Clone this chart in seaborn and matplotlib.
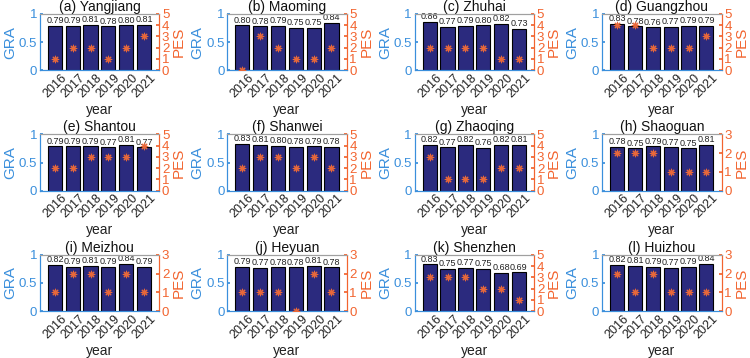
import numpy as np
import pandas as pd
import matplotlib
matplotlib.use("Agg")
import matplotlib.pyplot as plt
import seaborn as sns

sns.set_theme(style="white")
plt.rcParams['font.family'] = ['Liberation Sans', 'DejaVu Sans']

years = ["2016", "2017", "2018", "2019", "2020", "2021"]
titles = ["(a) Yangjiang", "(b) Maoming", "(c) Zhuhai", "(d) Guangzhou",
          "(e) Shantou", "(f) Shanwei", "(g) Zhaoqing", "(h) Shaoguan",
          "(i) Meizhou", "(j) Heyuan", "(k) Shenzhen", "(l) Huizhou"]

gra_yangjiang = [0.79, 0.79, 0.81, 0.78, 0.80, 0.81]
gra_maoming = [0.80, 0.78, 0.79, 0.75, 0.75, 0.84]
gra_zhuhai = [0.86, 0.77, 0.79, 0.80, 0.82, 0.73]
gra_guangzhou = [0.83, 0.78, 0.76, 0.77, 0.79, 0.79]
gra_shantou = [0.79, 0.79, 0.79, 0.77, 0.81, 0.77]
gra_shanwei = [0.83, 0.81, 0.80, 0.78, 0.79, 0.78]
gra_zhaoqing = [0.82, 0.77, 0.82, 0.76, 0.82, 0.81]
gra_shaoguan = [0.78, 0.75, 0.79, 0.77, 0.75, 0.81]
gra_meizhou = [0.82, 0.79, 0.81, 0.79, 0.84, 0.79]
gra_heyuan = [0.79, 0.77, 0.78, 0.78, 0.81, 0.78]
gra_shenzhen = [0.83, 0.75, 0.77, 0.75, 0.68, 0.69]
gra_huizhou = [0.82, 0.81, 0.79, 0.77, 0.79, 0.84]

pes_yangjiang = [1, 2, 2, 1, 2, 3]
pes_maoming = [0, 3, 2, 1, 1, 2]
pes_zhuhai = [2, 2, 2, 2, 1, 1]
pes_guangzhou = [4, 4, 2, 2, 2, 3]
pes_shantou = [2, 2, 3, 3, 3, 4]
pes_shanwei = [2, 3, 3, 2, 3, 2]
pes_zhaoqing = [3, 1, 1, 1, 2, 2]
pes_shaoguan = [2, 2, 2, 1, 1, 1]
pes_meizhou = [1, 2, 2, 1, 2, 1]
pes_heyuan = [1, 1, 1, 0, 2, 1]
pes_shenzhen = [3, 3, 3, 2, 2, 1]
pes_huizhou = [2, 1, 2, 1, 1, 1]

pes_max = [5, 5, 5, 5, 5, 5, 5, 3, 3, 3, 5, 3]

gra_all = [gra_yangjiang, gra_maoming, gra_zhuhai, gra_guangzhou,
           gra_shantou, gra_shanwei, gra_zhaoqing, gra_shaoguan,
           gra_meizhou, gra_heyuan, gra_shenzhen, gra_huizhou]
pes_all = [pes_yangjiang, pes_maoming, pes_zhuhai, pes_guangzhou,
           pes_shantou, pes_shanwei, pes_zhaoqing, pes_shaoguan,
           pes_meizhou, pes_heyuan, pes_shenzhen, pes_huizhou]

BAR = "#2b2a7e"
BLUE = "#3a8fdc"
ORANGE = "#f2642f"
MARK = "#e8683a"

fig = plt.figure(figsize=(7.5, 3.58), dpi=100)
gs = fig.add_gridspec(3, 4, left=0.053, right=0.962, top=0.961, bottom=0.131,
                      wspace=0.57, hspace=1.14)

for i in range(12):
    ax = fig.add_subplot(gs[i // 4, i % 4])
    df = pd.DataFrame({"year": years, "GRA": gra_all[i], "PES": pes_all[i]})
    sns.barplot(data=df, x="year", y="GRA", color=BAR, edgecolor="black",
                linewidth=0.8, width=0.8, saturation=1, ax=ax)
    for c in ax.containers:
        ax.bar_label(c, fmt="%.2f", fontsize=6.5, padding=0.5, color="#222222")
    ax.set_ylim(0, 1)
    ax.set_xlim(-0.85, 5.85)
    ax.set_yticks([0, 0.5, 1])
    ax.set_yticklabels(["0", "0.5", "1"])
    ax.tick_params(axis="y", colors=BLUE, labelsize=9.5, direction="in", length=2, pad=2)
    ax.tick_params(axis="x", labelsize=9, rotation=45, length=0, pad=1, colors="#222222")
    for lab in ax.get_xticklabels():
        lab.set_ha("center")
    ax.set_ylabel("GRA", color=BLUE, fontsize=11, labelpad=1)
    ax.set_xlabel("year", fontsize=10, labelpad=2, color="#222222")
    ax.set_title(titles[i], fontsize=10, pad=2, color="#111111")

    ax2 = ax.twinx()
    sns.scatterplot(data=df, x="year", y="PES", marker=(8, 2, 0), color=MARK,
                    s=22, linewidth=0.8, ax=ax2, zorder=5)
    ax2.set_ylim(0, pes_max[i])
    ax2.set_yticks(range(0, pes_max[i] + 1))
    ax2.tick_params(axis="y", colors=ORANGE, labelsize=9.5, direction="in", length=2, pad=2)
    ax2.set_ylabel("PES", color=ORANGE, fontsize=11, labelpad=2)
    ax2.set_xlim(-0.85, 5.85)

    for a in (ax, ax2):
        a.spines["left"].set_color(BLUE)
        a.spines["right"].set_color(ORANGE)
        a.spines["bottom"].set_color(BLUE)
        a.spines["top"].set_color("#a0a0a0")
        for s in a.spines.values():
            s.set_linewidth(0.8)

fig.savefig("out.png", dpi=100)
